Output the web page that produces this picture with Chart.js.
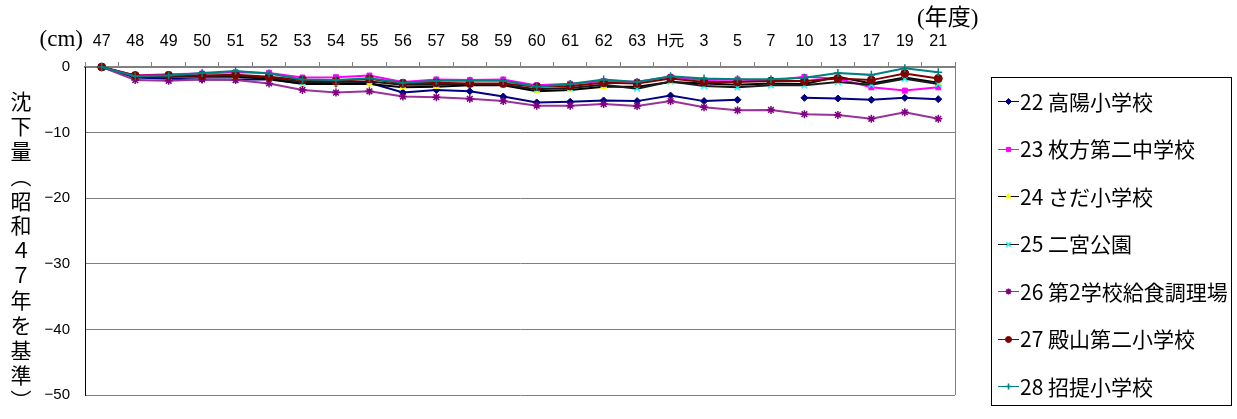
<!DOCTYPE html>
<html lang="ja">
<head>
<meta charset="utf-8">
<title>地盤沈下量の推移</title>
<script src="https://cdn.jsdelivr.net/npm/chart.js@4/dist/chart.umd.min.js"></script>
<style>
  html, body { margin: 0; padding: 0; background: #fff; }
  #wrap { position: relative; width: 1237px; height: 419px; }
</style>
</head>
<body>
<div id="wrap"><canvas id="c" width="1237" height="419"></canvas></div>
<script>
// 年度（昭和47年度〜平成21年度）
const years = ['47','48','49','50','51','52','53','54','55','56','57','58','59','60','61','62','63','H元','3','5','7','10','13','17','19','21'];

// 各観測点の累積沈下量 (cm, 昭和47年を基準)
const takayo   = [0,-1.6,-1.8,-1.9,-1.9,-1.9,-2.5,-2.55,-2.4,-3.9,-3.5,-3.7,-4.5,-5.4,-5.3,-5.1,-5.2,-4.35,-5.2,-5.0,null,-4.7,-4.8,-5.0,-4.7,-4.9];
const hirakata2 = [0,-1.3,-1.1,-1.0,-0.8,-0.9,-1.6,-1.55,-1.3,-2.3,-1.9,-2.0,-1.9,-2.8,-2.55,-2.15,-2.25,-1.5,-2.0,-1.9,-2.1,-1.5,-1.8,-3.1,-3.6,-3.1];
const sada      = [0,-1.4,-1.4,-1.5,-1.5,-1.8,-2.6,-2.6,-2.6,-3.1,-3.0,-2.8,-2.8,-3.7,-3.5,-3.0,-3.0,-2.3,-2.5,-2.7,-2.5,-2.6,-1.5,-2.5,-1.6,-2.4];
const ninomiya  = [0,-1.5,-1.5,-1.4,-1.3,-1.6,-2.3,-2.3,-2.2,-2.7,-2.7,-2.6,-2.7,-3.4,-3.2,-2.7,-3.3,-2.2,-2.9,-3.1,-2.8,-2.8,-2.3,-2.7,-1.8,-2.6];
const kyushoku2 = [0,-2.0,-2.1,-1.9,-2.0,-2.5,-3.5,-3.9,-3.7,-4.5,-4.6,-4.85,-5.2,-5.9,-5.9,-5.65,-5.95,-5.2,-6.15,-6.6,-6.55,-7.2,-7.3,-7.9,-6.9,-7.9];
const tonoyama2 = [0,-1.3,-1.3,-1.3,-1.2,-1.5,-2.0,-2.15,-1.8,-2.5,-2.4,-2.5,-2.5,-3.0,-2.9,-2.4,-2.5,-1.75,-2.3,-2.3,-2.15,-2.15,-1.75,-2.0,-1.0,-1.75];
const shodai    = [0,-1.4,-1.3,-0.9,-0.6,-1.0,-1.9,-2.0,-1.7,-2.4,-2.1,-2.1,-2.1,-3.0,-2.6,-1.9,-2.3,-1.4,-1.75,-1.85,-1.85,-1.65,-0.9,-1.2,-0.2,-0.8];

const seriesNames = ['22 高陽小学校','23 枚方第二中学校','24 さだ小学校','25 二宮公園','26 第2学校給食調理場','27 殿山第二小学校','28 招提小学校'];
const seriesValues = [takayo, hirakata2, sada, ninomiya, kyushoku2, tonoyama2, shodai];

const yTicks = { min: -50, max: 0, step: 10 };

// 線色・マーカー
const styles = [
  { line: '#000080', fill: '#000080', stroke: '#000080', point: 'rectRot',  r: 3.5, bw: 1 },
  { line: '#FF00FF', fill: '#FF00FF', stroke: '#FF00FF', point: 'rect',     r: 3.5, bw: 1 },
  { line: '#000000', fill: '#FFFF00', stroke: '#FFFF00', point: 'triangle', r: 3.5, bw: 1 },
  { line: '#1a1a1a', fill: '#00FFFF', stroke: '#00FFFF', point: 'crossRot', r: 4,   bw: 1.5 },
  { line: '#993399', fill: '#800080', stroke: '#800080', point: 'star',     r: 4,   bw: 1.5 },
  { line: '#800000', fill: '#800000', stroke: '#800000', point: 'circle',   r: 4,   bw: 1 },
  { line: '#008080', fill: '#008080', stroke: '#008080', point: 'cross',    r: 4,   bw: 1.5 }
];

const datasets = seriesValues.map((vals, i) => ({
  label: seriesNames[i],
  data: vals,
  borderColor: styles[i].line,
  backgroundColor: styles[i].fill,
  borderWidth: 2,
  pointStyle: styles[i].point,
  pointRadius: styles[i].r,
  pointBackgroundColor: styles[i].fill,
  pointBorderColor: styles[i].stroke,
  pointBorderWidth: styles[i].bw,
  tension: 0,
  spanGaps: false,
  clip: false,
  order: seriesValues.length - i
}));

const SANS = "'Liberation Sans', 'Noto Sans CJK JP', sans-serif";
const SERIF = "'Liberation Serif', 'Noto Sans CJK JP', serif";
const CJK = "'Noto Sans CJK JP', 'Liberation Sans', sans-serif";

// 軸見出し・凡例・外枠
const decorations = {
  id: 'decorations',
  afterDraw(chart) {
    const ctx = chart.ctx;
    const a = chart.chartArea;
    ctx.save();

    // 右辺
    ctx.strokeStyle = '#808080';
    ctx.lineWidth = 1;
    ctx.beginPath();
    ctx.moveTo(Math.round(a.right) + 0.5, a.top);
    ctx.lineTo(Math.round(a.right) + 0.5, a.bottom);
    ctx.stroke();

    // 単位・年度
    ctx.fillStyle = '#000';
    ctx.textBaseline = 'middle';
    ctx.font = '23px ' + SERIF;
    ctx.textAlign = 'right';
    ctx.fillText('(cm)', 83, 40);
    ctx.textAlign = 'left';
    ctx.fillText('(年度)', 917, 19);

    // 縦書きの軸タイトル
    const title = '沈下量︵昭和４７年を基準︶';
    ctx.font = '21px ' + CJK;
    ctx.textAlign = 'center';
    let y = 101;
    for (const ch of title) {
      ctx.fillText(ch, 21, y);
      y += 24.9;
    }

    // 凡例
    const lx = 991.5, ly = 77.5, lw = 240, lh = 328;
    ctx.fillStyle = '#fff';
    ctx.fillRect(lx, ly, lw, lh);
    ctx.strokeStyle = '#000';
    ctx.lineWidth = 1;
    ctx.strokeRect(lx, ly, lw, lh);
    ctx.font = '21px ' + CJK;
    ctx.textAlign = 'left';
    chart.data.datasets.forEach((ds, i) => {
      const cy = 101 + i * 47.5;
      ctx.strokeStyle = ds.borderColor;
      ctx.lineWidth = 1;
      ctx.beginPath();
      ctx.moveTo(998, Math.round(cy) + 0.5);
      ctx.lineTo(1019, Math.round(cy) + 0.5);
      ctx.stroke();
      ctx.fillStyle = ds.pointBackgroundColor;
      ctx.strokeStyle = ds.pointBorderColor;
      ctx.lineWidth = ds.pointBorderWidth;
      Chart.helpers.drawPoint(ctx, { pointStyle: ds.pointStyle, radius: 3, rotation: 0, borderWidth: ds.pointBorderWidth }, 1008.5, Math.round(cy) + 0.5);
      ctx.fillStyle = '#000';
      ctx.fillText(ds.label, 1020, cy + 1);
    });
    ctx.restore();
  }
};

new Chart(document.getElementById('c'), {
  type: 'line',
  data: { labels: years, datasets },
  options: {
    responsive: false,
    devicePixelRatio: 1,
    animation: false,
    events: [],
    layout: { padding: { left: 0, top: 0, right: 282, bottom: 11 } },
    plugins: { legend: { display: false }, tooltip: { enabled: false } },
    scales: {
      x: {
        type: 'category',
        position: 'top',
        offset: true,
        grid: { offset: true, drawOnChartArea: false, drawTicks: true, tickLength: 5, color: '#808080', lineWidth: 1 },
        border: { color: '#808080', width: 2 },
        ticks: { color: '#000', font: { family: SANS, size: 16 }, padding: 11, maxRotation: 0, autoSkip: false },
        afterFit(s) { s.height = 67; }
      },
      y: {
        min: yTicks.min,
        max: yTicks.max,
        grid: { color: '#808080', lineWidth: 1, drawTicks: false },
        border: { color: '#000', width: 1 },
        ticks: {
          stepSize: yTicks.step,
          color: '#000',
          font: { family: SANS, size: 15 },
          padding: 15,
          callback: v => (v < 0 ? '−' + Math.abs(v) : String(v))
        },
        afterFit(s) { s.width = 85; }
      }
    }
  },
  plugins: [decorations]
});
</script>
</body>
</html>
